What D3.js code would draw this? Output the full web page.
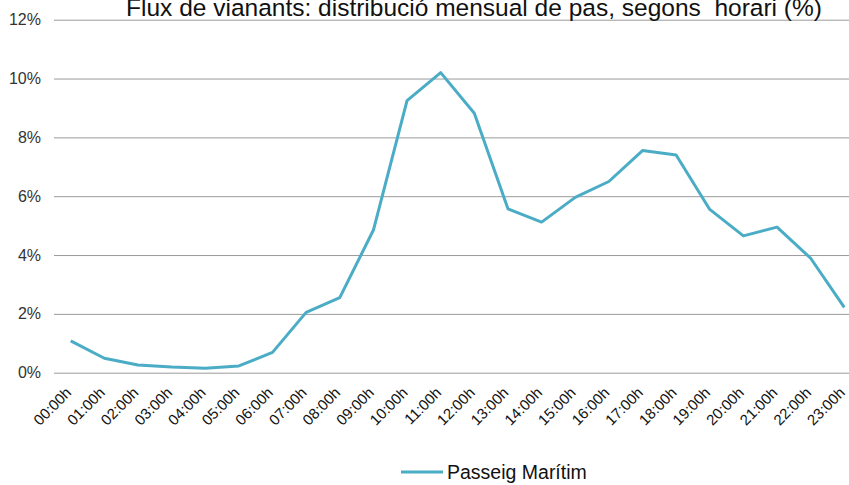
<!DOCTYPE html>
<html>
<head>
<meta charset="utf-8">
<script src="https://cdn.jsdelivr.net/npm/d3@7"></script>
<style>
  body { margin: 0; background: #fff; }
  svg { display: block; font-family: "Liberation Sans", Arial, sans-serif; }
</style>
</head>
<body>
<div id="chart-holder"></div>
<script>
// hours on the x axis
var hours = ["00:00h", "01:00h", "02:00h", "03:00h", "04:00h", "05:00h", "06:00h", "07:00h",
    "08:00h", "09:00h", "10:00h", "11:00h", "12:00h", "13:00h", "14:00h", "15:00h",
    "16:00h", "17:00h", "18:00h", "19:00h", "20:00h", "21:00h", "22:00h", "23:00h"];

// share of monthly passers-by, in %
var passeigMaritim = [1.08, 0.49, 0.26, 0.19, 0.15, 0.23, 0.69, 2.05, 2.55, 4.85, 9.25, 10.2,
    8.82, 5.57, 5.12, 5.96, 6.5, 7.55, 7.4, 5.55, 4.65, 4.95, 3.89, 2.22];

var yTicks = [0, 2, 4, 6, 8, 10, 12];
var seriesName = "Passeig Marítim";
var chartTitle = "Flux de vianants: distribució mensual de pas, segons  horari (%)";

var width = 849, height = 485;
var lineColor = "#4bacc6";

var svg = d3.select("#chart-holder")
    .append("svg")
    .attr("width", width)
    .attr("height", height);

// scales
var x = d3.scalePoint().domain(hours).range([70.7, 844.3]);
var y = d3.scaleLinear().domain([0, 12]).range([372.7, 19.7]);

// gridlines + y labels
var yAxis = svg.append("g")
    .attr("transform", "translate(54,0)")
    .call(d3.axisLeft(y)
        .tickValues(yTicks)
        .tickSize(-(width - 54))
        .tickPadding(13)
        .tickFormat(function (d) { return d + "%"; }));
yAxis.select(".domain").remove();
yAxis.selectAll(".tick line").attr("stroke", "#9a9a9a");
yAxis.selectAll(".tick text")
    .attr("fill", "#333")
    .attr("font-size", 16)
    .attr("font-family", "Liberation Sans, Arial, sans-serif");

// x labels, rotated
var xAxis = svg.append("g")
    .attr("transform", "translate(0,372.7)")
    .call(d3.axisBottom(x).tickSize(0).tickPadding(0));
xAxis.select(".domain").remove();
xAxis.selectAll(".tick text")
    .attr("fill", "#111")
    .attr("font-size", 15)
    .attr("font-family", "Liberation Sans, Arial, sans-serif")
    .attr("text-anchor", "end")
    .attr("dy", 0)
    .attr("y", 0)
    .attr("transform", "translate(1,21) rotate(-45)");

// the line
var line = d3.line()
    .x(function (d, i) { return x(hours[i]); })
    .y(function (d) { return y(d); });

svg.append("path")
    .datum(passeigMaritim)
    .attr("fill", "none")
    .attr("stroke", lineColor)
    .attr("stroke-width", 3)
    .attr("stroke-linejoin", "round")
    .attr("d", line);

// title (top is cut off in the original)
svg.append("text")
    .attr("x", 474)
    .attr("y", 16)
    .attr("text-anchor", "middle")
    .attr("font-size", 24.5)
    .attr("fill", "#111")
    .style("white-space", "pre")
    .text(chartTitle);

// legend
var legend = svg.append("g").attr("transform", "translate(401,472)");
legend.append("line")
    .attr("x1", 0).attr("x2", 42)
    .attr("stroke", lineColor)
    .attr("stroke-width", 3);
legend.append("text")
    .attr("x", 46)
    .attr("y", 7)
    .attr("font-size", 19.5)
    .attr("fill", "#111")
    .text(seriesName);
</script>
</body>
</html>
